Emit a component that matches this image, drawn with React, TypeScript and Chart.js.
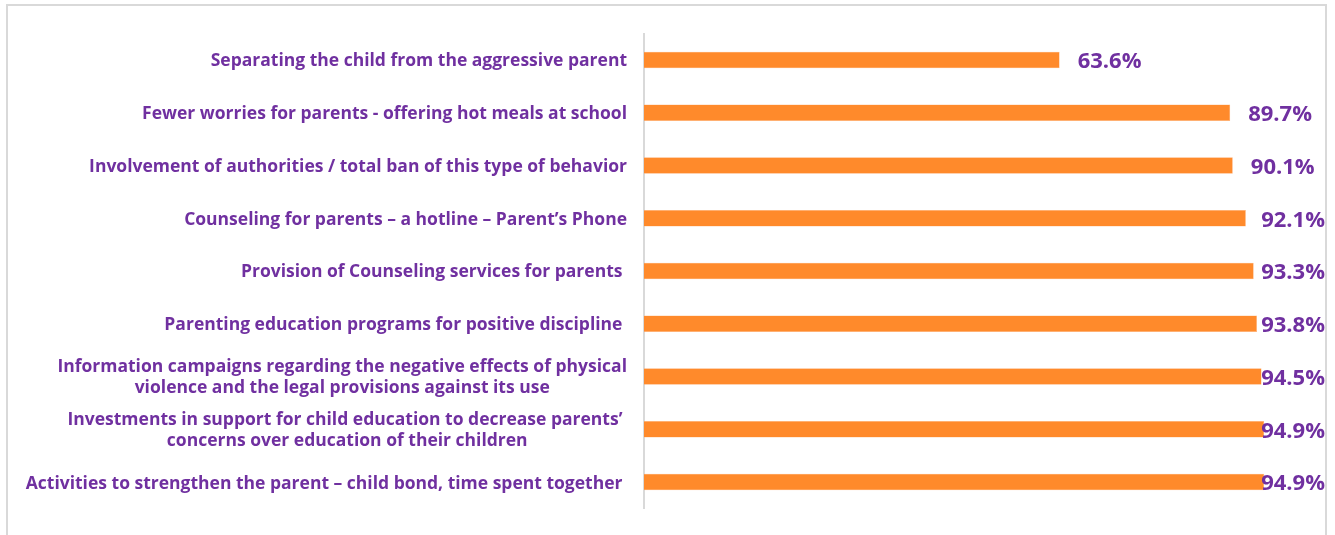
import React, { useEffect, useRef } from "react";
import { Chart, registerables } from "chart.js";

Chart.register(...registerables);

const categories: string[][] = [
  ["Separating the child from the aggressive parent"],
  ["Fewer worries for parents - offering hot meals at school"],
  ["Involvement of authorities / total ban of this type of behavior"],
  ["Counseling for parents \u2013 a hotline \u2013 Parent\u2019s Phone"],
  ["Provision of Counseling services for parents "],
  ["Parenting education programs for positive discipline "],
  ["Information campaigns regarding the negative effects of physical", "violence and the legal provisions against its use"],
  ["Investments in support for child education to decrease parents\u2019 ", "concerns over education of their children"],
  ["Activities to strengthen the parent \u2013 child bond, time spent together "],
];

const values: number[] = [63.6, 89.7, 90.1, 92.1, 93.3, 93.8, 94.5, 94.9, 94.9];

const PURPLE = "#7030A0";
const ORANGE = "#FF8A2B";
const FONT = "'Open Sans', Lato, sans-serif";

const labelPlugin = {
  id: "customLabels",
  afterDraw(chart: any) {
    const ctx = chart.ctx as CanvasRenderingContext2D;
    const yScale = chart.scales.y;
    const area = chart.chartArea;
    ctx.save();
    // category labels
    ctx.font = `bold 17.5px ${FONT}`;
    ctx.fillStyle = PURPLE;
    ctx.textBaseline = "middle";
    const rightEdge = area.left - 17;
    const lh = 21;
    categories.forEach((lines, i) => {
      const yc = yScale.getPixelForValue(i) + 1.5;
      const widths = lines.map((l) => ctx.measureText(l).width);
      const maxW = Math.max(...widths);
      const startY = yc - ((lines.length - 1) * lh) / 2;
      lines.forEach((line, j) => {
        const y = startY + j * lh;
        if (lines.length === 1) {
          ctx.textAlign = "right";
          ctx.fillText(line, rightEdge, y);
        } else {
          ctx.textAlign = "center";
          ctx.fillText(line, rightEdge - maxW / 2, y);
        }
      });
    });
    // value labels
    ctx.font = `bold 22px ${FONT}`;
    ctx.textAlign = "left";
    const meta = chart.getDatasetMeta(0);
    const maxRight = chart.width - 10;
    meta.data.forEach((bar: any, i: number) => {
      const text = values[i].toFixed(1) + "%";
      const w = ctx.measureText(text).width;
      const x = Math.min(bar.x + 18, maxRight - w);
      ctx.fillText(text, x, bar.y + 2);
    });
    ctx.restore();
  },
};

export default function App() {
  const ref = useRef<HTMLCanvasElement | null>(null);
  useEffect(() => {
    if (!ref.current) return;
    const chart = new Chart(ref.current, {
      type: "bar",
      data: {
        labels: categories.map((c) => c.join(" ")),
        datasets: [
          {
            data: values,
            backgroundColor: ORANGE,
            borderColor: "#FFB27A",
            borderWidth: 0.5,
            barPercentage: 0.31,
            categoryPercentage: 1,
          },
        ],
      },
      options: {
        indexAxis: "y",
        animation: false,
        responsive: false,
        maintainAspectRatio: false,
        layout: { padding: { left: 644, right: 37.5, top: 33.6, bottom: 26.6 } },
        plugins: { legend: { display: false }, tooltip: { enabled: false } },
        scales: {
          x: { display: false, min: 0, max: 100 },
          y: {
            display: true,
            afterFit: (s: any) => {
              s.width = 0;
            },
            ticks: { display: false },
            grid: { display: false, drawTicks: false },
            border: { display: true, color: "#D9D9D9", width: 2 },
          },
        },
      },
      plugins: [labelPlugin],
    });
    return () => chart.destroy();
  }, []);
  return (
    <div style={{ position: "fixed", left: 0, top: 0, width: 1335, height: 535, background: "#fff", overflow: "hidden" }}>
      <div
        style={{
          position: "absolute",
          left: 6,
          top: 4,
          width: 1321,
          height: 560,
          border: "2px solid #D9D9D9",
          boxSizing: "border-box",
        }}
      />
      <canvas ref={ref} width={1335} height={535} style={{ position: "absolute", left: 0, top: 0, display: "block" }} />
    </div>
  );
}
